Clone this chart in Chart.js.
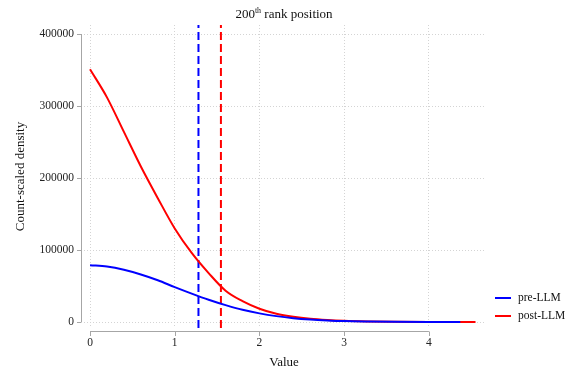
<!DOCTYPE html>
<html>
<head>
<meta charset="utf-8">
<script src="https://cdn.jsdelivr.net/npm/chart.js@4"></script>
<style>
  html, body { margin: 0; padding: 0; background: #fff; }
  #wrap { width: 571px; height: 373px; }
</style>
</head>
<body>
<div id="wrap"><canvas id="chart" width="571" height="373"></canvas></div>
<script>
// Valores
const preX  = [0, 0.2, 0.4, 0.6, 0.8, 1.0, 1.2, 1.4, 1.6, 1.8, 2.0, 2.2, 2.4, 2.6, 2.8, 3.0, 3.3, 3.6, 4.0, 4.37];
const preY  = [79000, 77000, 72500, 66000, 58000, 48500, 39500, 31000, 23500, 17000, 12000, 8200, 5400, 3500, 2200, 1300, 700, 350, 150, 60];
const postX = [0, 0.2, 0.4, 0.6, 0.8, 1.0, 1.2, 1.4, 1.6, 1.8, 2.0, 2.2, 2.4, 2.6, 2.8, 3.0, 3.3, 3.6, 4.0, 4.55];
const postY = [351000, 312000, 264000, 216000, 172000, 130000, 96000, 68000, 43500, 29000, 18500, 11500, 7200, 4400, 2700, 1600, 800, 400, 180, 60];
const medians = [1.28, 1.545];           // pre-LLM, post-LLM
const seriesNames = ["pre-LLM", "post-LLM"];
const xTicks = [0, 1, 2, 3, 4];
const yTicks = [0, 100000, 200000, 300000, 400000];

const X_MIN = -0.071, X_MAX = 4.65;
const Y_MIN = -8300, Y_MAX = 412500;
const SERIF = "'Liberation Serif', 'Times New Roman', serif";

function toPoints(xs, ys) {
    return xs.map((x, i) => ({ x: x, y: ys[i] }));
}

// Título com sobrescrito
const titlePlugin = {
    id: "stataTitle",
    afterDraw(chart) {
        const ctx = chart.ctx;
        const a = chart.chartArea;
        const parts = [
            { t: "200", size: 13, dy: 0 },
            { t: "th", size: 8, dy: -5.5 },
            { t: " rank position", size: 13, dy: 0 }
        ];
        ctx.save();
        ctx.fillStyle = "#111";
        ctx.textBaseline = "alphabetic";
        let total = 0;
        parts.forEach((p) => {
            ctx.font = p.size + "px " + SERIF;
            p.w = ctx.measureText(p.t).width;
            total += p.w;
        });
        let x = (a.left + a.right) / 2 - total / 2;
        const base = 18;
        parts.forEach((p) => {
            ctx.font = p.size + "px " + SERIF;
            ctx.fillText(p.t, x, base + p.dy);
            x += p.w;
        });
        ctx.restore();
    }
};

// Legenda à direita, alinhada embaixo
const legendPlugin = {
    id: "sideLegend",
    afterDraw(chart) {
        const ctx = chart.ctx;
        const a = chart.chartArea;
        ctx.save();
        ctx.font = "11.5px " + SERIF;
        ctx.textBaseline = "middle";
        ctx.fillStyle = "#111";
        seriesNames.forEach((name, i) => {
            const ds = chart.data.datasets[i];
            const y = a.bottom - 30 + i * 18;
            ctx.fillStyle = ds.borderColor;
            ctx.fillRect(a.right + 11, y - 1, 16, 2);
            ctx.fillStyle = "#111";
            ctx.fillText(name, a.right + 34, y);
        });
        ctx.restore();
    }
};

// Eixos afastados da área do gráfico (estilo Stata)
const axesPlugin = {
    id: "offsetAxes",
    afterDraw(chart) {
        const ctx = chart.ctx;
        const xs = chart.scales.x, ys = chart.scales.y;
        const a = chart.chartArea;
        const axX = a.left - 3;
        const axY = a.bottom + 3;
        ctx.save();
        ctx.strokeStyle = "#a6a6a6";
        ctx.lineWidth = 1;
        ctx.beginPath();
        ctx.moveTo(axX + 0.5, ys.getPixelForValue(yTicks[yTicks.length - 1]));
        ctx.lineTo(axX + 0.5, ys.getPixelForValue(yTicks[0]));
        yTicks.forEach((v) => {
            const py = Math.round(ys.getPixelForValue(v)) + 0.5;
            ctx.moveTo(axX - 4, py);
            ctx.lineTo(axX + 0.5, py);
        });
        ctx.moveTo(xs.getPixelForValue(xTicks[0]), axY + 0.5);
        ctx.lineTo(xs.getPixelForValue(xTicks[xTicks.length - 1]), axY + 0.5);
        xTicks.forEach((v) => {
            const px = Math.round(xs.getPixelForValue(v)) + 0.5;
            ctx.moveTo(px, axY + 0.5);
            ctx.lineTo(px, axY + 5);
        });
        ctx.stroke();
        ctx.restore();
    }
};

const ctx = document.getElementById("chart").getContext("2d");
new Chart(ctx, {
    type: "line",
    data: {
        datasets: [
            {
                label: seriesNames[0],
                data: toPoints(preX, preY),
                borderColor: "#0000ff",
                borderWidth: 2,
                pointRadius: 0,
                cubicInterpolationMode: "monotone",
                fill: false
            },
            {
                label: seriesNames[1],
                data: toPoints(postX, postY),
                borderColor: "#ff0000",
                borderWidth: 2,
                pointRadius: 0,
                cubicInterpolationMode: "monotone",
                fill: false
            },
            {
                label: "median-pre",
                data: [{ x: medians[0], y: Y_MIN }, { x: medians[0], y: Y_MAX }],
                borderColor: "#0000ff",
                borderWidth: 2,
                borderDash: [8, 4],
                pointRadius: 0,
                fill: false
            },
            {
                label: "median-post",
                data: [{ x: medians[1], y: Y_MIN }, { x: medians[1], y: Y_MAX }],
                borderColor: "#ff0000",
                borderWidth: 2,
                borderDash: [8, 4],
                pointRadius: 0,
                fill: false
            }
        ]
    },
    options: {
        responsive: false,
        animation: false,
        layout: { padding: { top: 25, right: 87, bottom: 0, left: 0 } },
        plugins: {
            title: { display: false },
            tooltip: { enabled: false },
            legend: { display: false }
        },
        scales: {
            x: {
                type: "linear",
                min: X_MIN,
                max: X_MAX,
                afterFit: (s) => { s.height = 45; },
                afterBuildTicks: (s) => { s.ticks = xTicks.map((v) => ({ value: v })); },
                grid: { color: "#d4d4d4", drawTicks: false },
                border: { display: false, dash: [1, 2] },
                ticks: {
                    padding: 8,
                    color: "#222",
                    font: { family: SERIF, size: 11.5 },
                    maxRotation: 0
                },
                title: {
                    display: true,
                    text: "Value",
                    color: "#111",
                    font: { family: SERIF, size: 13 },
                    padding: { top: 0, bottom: 3 }
                }
            },
            y: {
                type: "linear",
                min: Y_MIN,
                max: Y_MAX,
                afterFit: (s) => { s.width = 84; },
                afterBuildTicks: (s) => { s.ticks = yTicks.map((v) => ({ value: v })); },
                grid: { color: "#d4d4d4", drawTicks: false },
                border: { display: false, dash: [1, 2] },
                ticks: {
                    padding: 10,
                    color: "#222",
                    font: { family: SERIF, size: 11.5 },
                    callback: (v) => String(v)
                },
                title: {
                    display: true,
                    text: "Count-scaled density",
                    color: "#111",
                    font: { family: SERIF, size: 13 },
                    padding: { top: 13, bottom: 0 }
                }
            }
        }
    },
    plugins: [titlePlugin, legendPlugin, axesPlugin]
});
</script>
</body>
</html>
